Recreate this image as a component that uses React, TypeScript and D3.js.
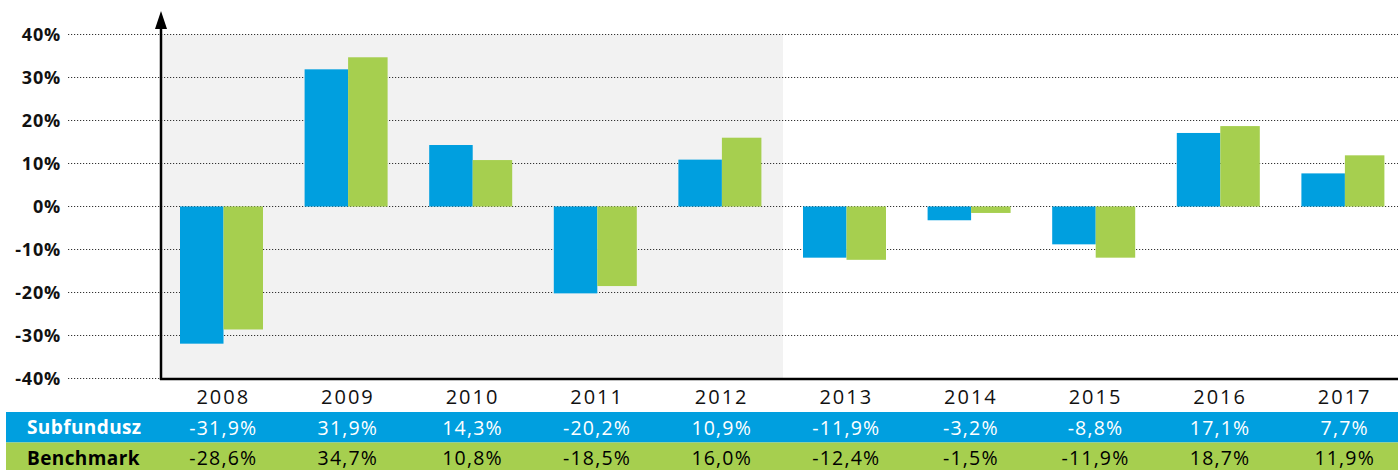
import React from "react";
import * as d3 from "d3";

const years = ["2008", "2009", "2010", "2011", "2012", "2013", "2014", "2015", "2016", "2017"];
const subfundusz = [-31.9, 31.9, 14.3, -20.2, 10.9, -11.9, -3.2, -8.8, 17.1, 7.7];
const benchmark = [-28.6, 34.7, 10.8, -18.5, 16.0, -12.4, -1.5, -11.9, 18.7, 11.9];
const yTicks = [40, 30, 20, 10, 0, -10, -20, -30, -40];
const seriesNames = ["Subfundusz", "Benchmark"];

const W = 1398;
const H = 470;
const BLUE = "#009FDF";
const GREEN = "#A6CF4F";
const FONT = "'Open Sans', sans-serif";

const fmt = (v: number) => v.toFixed(1).replace(".", ",") + "%";

export default function App() {
  const x = d3.scaleBand<string>().domain(years).range([160, 1406]);
  const y = d3.scaleLinear().domain([-40, 40]).range([378.5, 34.5]);
  const step = x.step();
  const blueW = 43.5;
  const greenW = 39.5;
  const pad = 20;
  const shadedEnd = x("2013") as number;

  React.useEffect(() => {
    document.body.style.margin = "0";
  }, []);

  return (
    <svg width={W} height={H} style={{ display: "block", fontFamily: FONT }}>
      <rect x={162} y={y(40)} width={shadedEnd - 162} height={y(-40) - y(40)} fill="#F2F2F2" />
      {yTicks.map((t) => (
        <g key={t}>
          <line x1={68} x2={W} y1={y(t)} y2={y(t)} stroke="#333" strokeWidth={1} strokeDasharray="1.2,1.8" />
          <text x={61} y={y(t) + 6.5} textAnchor="end" fontSize={18} fontWeight={700} letterSpacing={0.8} fill="#111">
            {t + "%"}
          </text>
        </g>
      ))}
      {years.map((yr, i) => {
        const x0 = (x(yr) as number) + pad;
        const s = subfundusz[i];
        const b = benchmark[i];
        return (
          <g key={yr}>
            <rect x={x0} y={Math.min(y(s), y(0))} width={blueW} height={Math.abs(y(s) - y(0))} fill={BLUE} />
            <rect x={x0 + blueW} y={Math.min(y(b), y(0))} width={greenW} height={Math.abs(y(b) - y(0))} fill={GREEN} />
          </g>
        );
      })}
      <line x1={161} x2={161} y1={22} y2={380} stroke="#000" strokeWidth={2.5} />
      <path d="M161,11 L155,29 L167,29 Z" fill="#000" />
      <line x1={160} x2={W} y1={379} y2={379} stroke="#000" strokeWidth={2.5} />
      {years.map((yr) => (
        <text key={yr} x={(x(yr) as number) + step / 2 + 1} y={404} textAnchor="middle" fontSize={20} letterSpacing={2} fill="#111">
          {yr}
        </text>
      ))}
      <rect x={6} y={412} width={W - 6} height={30.5} fill={BLUE} />
      <rect x={6} y={442.5} width={W - 6} height={27.5} fill={GREEN} />
      <text x={27} y={434} fontSize={19} fontWeight={700} letterSpacing={0.4} fill="#fff">{seriesNames[0]}</text>
      <text x={27} y={465} fontSize={19} fontWeight={700} letterSpacing={0.4} fill="#000">{seriesNames[1]}</text>
      {years.map((yr, i) => (
        <g key={yr}>
          <text x={(x(yr) as number) + step / 2 + 1} y={435} textAnchor="middle" fontSize={19.5} letterSpacing={1.2} fill="#fff">
            {fmt(subfundusz[i])}
          </text>
          <text x={(x(yr) as number) + step / 2 + 1} y={465} textAnchor="middle" fontSize={19.5} letterSpacing={1.2} fill="#000">
            {fmt(benchmark[i])}
          </text>
        </g>
      ))}
    </svg>
  );
}
